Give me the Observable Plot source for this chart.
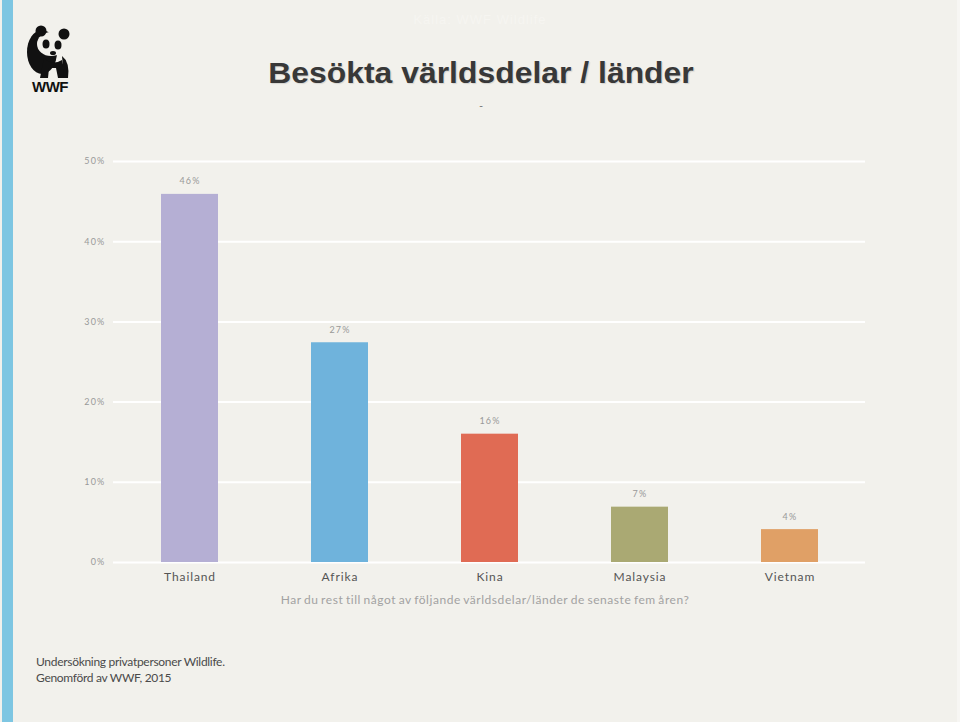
<!DOCTYPE html>
<html>
<head>
<meta charset="utf-8">
<script src="https://cdn.jsdelivr.net/npm/d3@7"></script>
<script src="https://cdn.jsdelivr.net/npm/@observablehq/plot@0.6"></script>
<style>
  html, body { margin: 0; padding: 0; background: #f2f1ec; }
  #page { position: relative; width: 960px; height: 722px; background: #f2f1ec; overflow: hidden; }
  #stripe { position: absolute; left: 2px; top: 0; width: 11px; height: 722px; background: #7ec6e2; }
  #rightedge { position: absolute; right: 0; top: 0; width: 3px; height: 722px; background: #f7f6f3; }
  #faint { position: absolute; left: 0; width: 960px; top: 12px; text-align: center; font: 13px "Liberation Sans", Arial, sans-serif; color: #f6f5f1; letter-spacing: 1px; }
  #title { position: absolute; left: 0; width: 962px; top: 59px; line-height: 29px; text-align: center; font: bold 29px/29px "Liberation Sans", Arial, sans-serif; color: #383838; transform: scaleX(1.1); transform-origin: 481px 0; text-shadow: 1px 1px 1px rgba(0,0,0,0.12); }
  #dash { position: absolute; left: 0; width: 962px; top: 99px; text-align: center; font: 11px "Liberation Sans", Arial, sans-serif; color: #777; }
  #chart { position: absolute; left: 0; top: 140px; }
  #xtitle { position: absolute; left: 0; width: 970px; top: 592px; text-align: center; font: 12px Lato, sans-serif; color: #a2a2a2; letter-spacing: 0.55px; word-spacing: -1px; }
  #footer { position: absolute; left: 36px; top: 654px; font: 12px Lato, sans-serif; color: #4a4a4a; line-height: 16px; letter-spacing: -0.3px; }
  #logo { position: absolute; left: 22px; top: 22px; }
  .xax text { letter-spacing: 0.9px; }
  .yax text { letter-spacing: 1.2px; }
  .vlab text { letter-spacing: 1.2px; }
</style>
</head>
<body>
<div id="page">
  <div id="stripe"></div>
  <div id="rightedge"></div>
  <svg id="logo" width="56" height="74" viewBox="0 0 56 74">
    <ellipse cx="20" cy="30" rx="15" ry="22" fill="#111"/>
    <ellipse cx="29" cy="22" rx="14" ry="12" fill="#f2f1ec"/>
    <circle cx="19" cy="9" r="5.5" fill="#111"/>
    <circle cx="42" cy="12" r="5.5" fill="#111"/>
    <ellipse cx="24" cy="22" rx="3.5" ry="4.5" fill="#111"/>
    <ellipse cx="36" cy="23" rx="3.5" ry="4.5" fill="#111"/>
    <ellipse cx="31" cy="31" rx="3" ry="2" fill="#111"/>
    <path d="M22 36 Q30 44 40 38 L44 56 L36 56 L34 46 L27 46 L26 56 L18 56 Z" fill="#111"/>
    <path d="M40 34 Q48 40 46 56 L42 56 Z" fill="#111"/>
    <text x="28" y="70" text-anchor="middle" font-family="Liberation Sans, Arial" font-weight="bold" font-size="15" fill="#111" letter-spacing="-0.5">WWF</text>
  </svg>
  <div id="faint">Källa: WWF Wildlife</div>
  <div id="title">Besökta världsdelar / länder</div>
  <div id="dash">-</div>
  <div id="chart"></div>
  <div id="xtitle">Har du rest till något av följande världsdelar/länder de senaste fem åren?</div>
  <div id="footer">Undersökning privatpersoner Wildlife.<br>Genomförd av WWF, 2015</div>
</div>
<script>
const categories = ["Thailand", "Afrika", "Kina", "Malaysia", "Vietnam"];
const values = [45.9, 27.4, 16.0, 6.9, 4.1];
const valueLabels = ["46%", "27%", "16%", "7%", "4%"];
const barColors = ["#b5afd4", "#6fb3dc", "#e06b54", "#aaa973", "#e0a066"];
const yTicks = [0, 10, 20, 30, 40, 50];

const data = categories.map((c, i) => ({cat: c, value: values[i], label: valueLabels[i]}));

const chart = Plot.plot({
  width: 960,
  height: 480,
  marginTop: 21,
  marginBottom: 58,
  marginLeft: 113,
  marginRight: 95,
  style: {background: "transparent", fontFamily: "Lato, sans-serif"},
  x: {domain: categories, paddingInner: 0.621, paddingOuter: 0.31, label: null},
  y: {domain: [0, 50], label: null},
  color: {domain: categories, range: barColors},
  marks: [
    Plot.gridY(yTicks, {stroke: "#ffffff", strokeOpacity: 1, strokeWidth: 2}),
    Plot.barY(data, {x: "cat", y: "value", fill: "cat"}),
    Plot.text(data, {x: "cat", y: "value", text: "label", dy: -13, fontSize: 9, fill: "#999", className: "vlab"}),
    Plot.axisX({tickSize: 0, tickPadding: 10, fontSize: 12, fill: "#555", label: null, className: "xax"}),
    Plot.axisY({ticks: yTicks, tickFormat: d => d + "%", tickSize: 0, tickPadding: 8, fontSize: 9, fill: "#999", label: null, className: "yax"})
  ]
});
document.getElementById("chart").appendChild(chart);
</script>
</body>
</html>
